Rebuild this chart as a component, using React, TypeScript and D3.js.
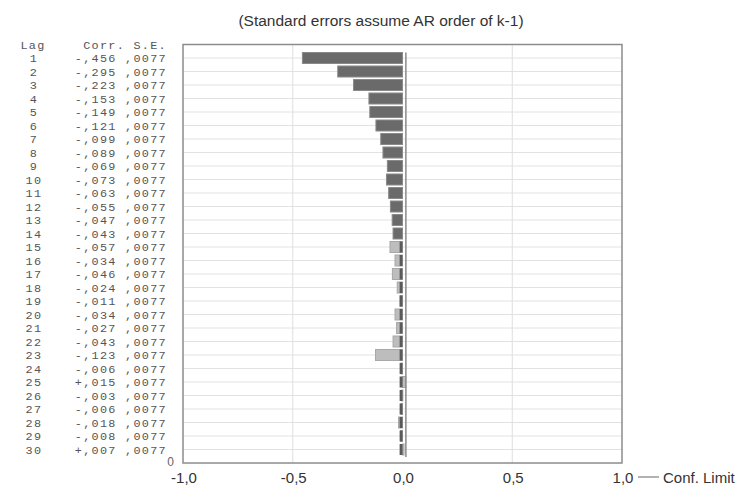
import React from "react";
import * as d3 from "d3";

const lags = [1,2,3,4,5,6,7,8,9,10,11,12,13,14,15,16,17,18,19,20,21,22,23,24,25,26,27,28,29,30];
const corrs = [-0.456,-0.295,-0.223,-0.153,-0.149,-0.121,-0.099,-0.089,-0.069,-0.073,-0.063,-0.055,-0.047,-0.043,-0.057,-0.034,-0.046,-0.024,-0.011,-0.034,-0.027,-0.043,-0.123,-0.006,0.015,-0.003,-0.006,-0.018,-0.008,0.007];
const corrLabels = ["-,456","-,295","-,223","-,153","-,149","-,121","-,099","-,089","-,069","-,073","-,063","-,055","-,047","-,043","-,057","-,034","-,046","-,024","-,011","-,034","-,027","-,043","-,123","-,006","+,015","-,003","-,006","-,018","-,008","+,007"];
const seLabel = ",0077";
const seValue = 0.0077;
const xTicks = [-1, -0.5, 0, 0.5, 1];
const xTickLabels = ["-1,0", "-0,5", "0,0", "0,5", "1,0"];
const title = "(Standard errors assume AR order of k-1)";

export default function App() {
  const W = 748, H = 486;
  const x = d3.scaleLinear().domain([-1, 1]).range([183, 622]);
  const y = d3.scaleLinear().domain([0, 31]).range([44.5, 463]);
  const bandH = 11;
  const conf = 2 * seValue;
  const sans = "'Liberation Sans', Arial, sans-serif";
  const mono = "'Liberation Mono', monospace";
  const monoSize = 11.8;
  const ls = 1.3;

  return (
    <svg width={W} height={H} style={{ position: "absolute", left: 0, top: 0, background: "#fff" }}>
      <rect x={0} y={0} width={W} height={H} fill="#fff" />
      <text x={381} y={26} textAnchor="middle" fontFamily={sans} fontSize={15.5} fill="#333">{title}</text>

      {/* gridlines */}
      {lags.map((l) => (
        <line key={"g" + l} x1={x(-1)} x2={x(1)} y1={y(l)} y2={y(l)} stroke="#e2e2e2" strokeWidth={1} />
      ))}
      {[-0.5, 0.5].map((t) => (
        <line key={"v" + t} x1={x(t)} x2={x(t)} y1={y(0)} y2={y(31)} stroke="#dedede" strokeWidth={1} />
      ))}

      {/* bars */}
      {lags.map((l, i) => {
        const v = corrs[i];
        const x0 = Math.min(x(v), x(0));
        const w = Math.max(Math.abs(x(v) - x(0)), 1);
        const dark = l <= 14;
        return (
          <rect key={"b" + l} x={x0} y={y(l) - bandH / 2} width={w} height={bandH}
            fill={dark ? "#6a6a6a" : "#bdbdbd"} stroke={dark ? "#8a8a8a" : "#a8a8a8"} strokeWidth={1} />
        );
      })}
      {lags.filter((l) => l > 14).map((l) => (
        <rect key={"c" + l} x={x(-conf) + 0.5} y={y(l) - bandH / 2} width={x(0) - x(-conf) - 0.5} height={bandH} fill="#5a5a5a" />
      ))}
      <line x1={x(conf)} x2={x(conf)} y1={y(1) - bandH / 2} y2={y(30) + bandH / 2 + 2} stroke="#8a8a8a" strokeWidth={1.5} />

      {/* frame */}
      <rect x={x(-1)} y={y(0)} width={x(1) - x(-1)} height={y(31) - y(0)} fill="none" stroke="#8c8c8c" strokeWidth={1.5} />

      {/* table */}
      <text x={33} y={y(0) + 4} textAnchor="middle" fontFamily={mono} fontSize={monoSize} letterSpacing={ls} fill="#555">Lag</text>
      <text x={167} y={y(0) + 4} textAnchor="end" fontFamily={mono} fontSize={monoSize} letterSpacing={ls} fill="#555" style={{ whiteSpace: "pre" }}>{"Corr. S.E."}</text>
      {lags.map((l, i) => (
        <g key={"t" + l}>
          <text x={34} y={y(l) + 4} textAnchor="middle" fontFamily={mono} fontSize={monoSize} letterSpacing={ls} fill="#555">{String(l)}</text>
          <text x={167} y={y(l) + 4} textAnchor="end" fontFamily={mono} fontSize={monoSize} letterSpacing={ls} fill="#555" style={{ whiteSpace: "pre" }}>{corrLabels[i] + " " + seLabel}</text>
        </g>
      ))}
      <text x={174} y={y(31) + 3} textAnchor="end" fontFamily={sans} fontSize={12} fill="#666">0</text>

      {/* x ticks */}
      {xTicks.map((t, i) => (
        <text key={"xt" + t} x={x(t) + 1} y={483} textAnchor="middle" fontFamily={sans} fontSize={15} fill="#333">{xTickLabels[i]}</text>
      ))}

      {/* legend */}
      <line x1={638} x2={659} y1={477} y2={477} stroke="#999" strokeWidth={1.5} />
      <text x={663} y={483} fontFamily={sans} fontSize={15} fill="#333">Conf. Limit</text>
    </svg>
  );
}
